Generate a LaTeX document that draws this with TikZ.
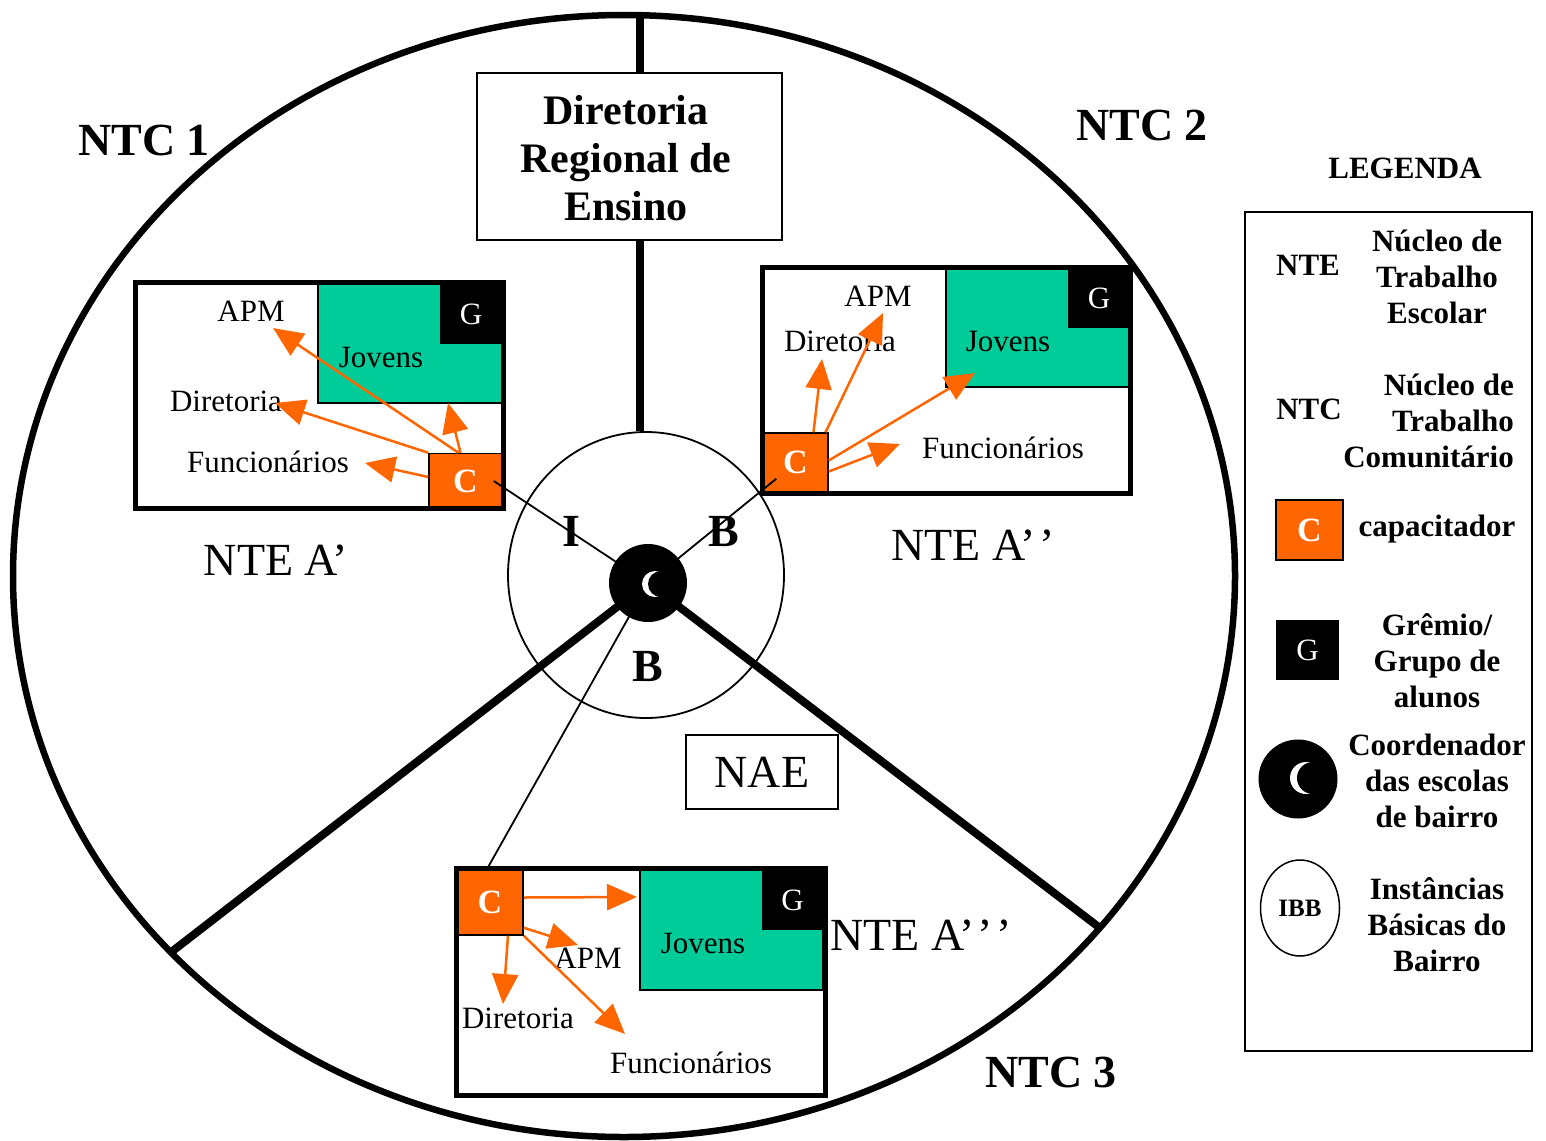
\documentclass[tikz,border=0pt]{standalone}
\usepackage{fontspec}
\setmainfont{Liberation Serif}
\usetikzlibrary{shapes.geometric,arrows.meta,calc}
\definecolor{jgreen}{RGB}{0,204,153}
\definecolor{corange}{RGB}{255,102,0}
\begin{document}
\begin{tikzpicture}[x=1pt,y=-1pt,
  txt/.style={font=\fontsize{31}{36}\selectfont, inner sep=0pt},
  btxt/.style={font=\fontsize{31}{36}\selectfont\bfseries, inner sep=0pt, align=center},
  big/.style={font=\fontsize{46}{50}\selectfont, inner sep=0pt},
  bigb/.style={font=\fontsize{46}{50}\selectfont\bfseries, inner sep=0pt},
  rbox/.style={rectangle, inner sep=0pt},
  ntebox/.style={rbox, draw, line width=5pt},
  jbox/.style={rbox, fill=jgreen, draw=black, line width=1.5pt},
  gbox/.style={rbox, fill=black, text=white, font=\fontsize{31}{36}\selectfont},
  cbox/.style={rbox, fill=corange, draw=black, line width=1.5pt, text=white, font=\fontsize{34}{36}\selectfont\bfseries},
  arr/.style={draw=corange, line width=2.5pt, -{Triangle[length=30pt,width=26pt]}},
  thinline/.style={line width=1.8pt},
  heavyline/.style={line width=7.5pt},
]
\useasboundingbox (0,0) rectangle (1546,1140);

% big NTC circle
\node[draw, ellipse, line width=6.5pt, minimum width=1222pt, minimum height=1122pt, inner sep=0pt] (ntc) at (624,576) {};

% Diretoria Regional de Ensino
\node[rbox, draw, line width=1.5pt, minimum width=305pt, minimum height=167pt] (dre) at (629.5,156.5) {};
\node[font=\fontsize{42}{48}\selectfont\bfseries, align=center, inner sep=0pt] (dretxt) at (626,158) {Diretoria\\Regional de\\Ensino};

% inner IBB circle
\node[draw, ellipse, thinline, minimum width=276pt, minimum height=286pt, inner sep=0pt] (ibb) at (646,575) {};

% vertical line
\coordinate (vtop) at (640,13);
\draw[heavyline] (vtop) -- (vtop |- dre.north);
\draw[heavyline] (vtop |- dre.south) -- (vtop |- ibb.north);

% sector lines
\coordinate (ll) at (170,953);
\coordinate (lr) at (1100,928);
\coordinate (cbc) at (648,583);
\draw[line width=8pt] (cbc) -- (ll);
\draw[line width=8pt] (cbc) -- (lr);

% ---------- NTE A' (left) ----------
\node[rbox, fill=white, minimum width=368pt, minimum height=226pt] (n1bg) at (319,395) {};
\node[jbox, minimum width=184pt, minimum height=119pt] (j1) at (410,343.5) {};
\node[gbox, minimum width=62pt, minimum height=60pt] (g1) at (471,314) {G};
\node[txt] (apm1) at (251,311) {APM};
\node[txt] (jov1) at (381,357) {Jovens};
\node[txt] (dir1) at (226,401) {Diretoria};
\node[txt] (fun1) at (268,462) {Funcionários};
\node[cbox, minimum width=73pt, minimum height=55pt] (c1) at (465.5,481) {C};
\node[ntebox, minimum width=368pt, minimum height=226pt] (n1) at (319,395) {};
\coordinate (t1a) at (273,328);
\coordinate (t1d) at (275,403);
\coordinate (t1f) at (365,463);
\coordinate (t1j) at (448,403);
\draw[arr] ($(c1.north)+(-7,0)$) -- (t1a);
\draw[arr] (c1.north west) -- (t1d);
\draw[arr] ($(c1.west)+(0,-4)$) -- (t1f);
\draw[arr] ($(c1.north)+(-5,0)$) -- (t1j);

% ---------- NTE A'' (right) ----------
\node[rbox, fill=white, minimum width=368pt, minimum height=226pt] (n2bg) at (946,380) {};
\node[jbox, minimum width=184pt, minimum height=119pt] (j2) at (1038,327.5) {};
\node[gbox, minimum width=62pt, minimum height=60pt] (g2) at (1099,298) {G};
\node[txt] (apm2) at (878,296) {APM};
\node[txt] (dir2) at (840,341) {Diretoria};
\node[txt] (jov2) at (1008,341) {Jovens};
\node[txt] (fun2) at (1003,448) {Funcionários};
\node[cbox, minimum width=65pt, minimum height=59pt] (c2) at (795.5,462.5) {C};
\node[ntebox, minimum width=368pt, minimum height=226pt] (n2) at (946,380) {};
\coordinate (t2d) at (822,359);
\coordinate (t2a) at (883,313);
\coordinate (t2j) at (975,373);
\coordinate (t2f) at (900,444);
\draw[arr] ($(c2.north)+(18,0)$) -- (t2d);
\draw[arr] ($(c2.north)+(30,0)$) -- (t2a);
\draw[arr] ($(c2.east)+(0,-2)$) -- (t2j);
\draw[arr] ($(c2.east)+(0,9)$) -- (t2f);

% ---------- NTE A''' (bottom) ----------
\node[rbox, fill=white, minimum width=369pt, minimum height=227pt] (n3bg) at (640.5,981.5) {};
\node[jbox, minimum width=183pt, minimum height=120pt] (j3) at (731.5,930) {};
\node[gbox, minimum width=61pt, minimum height=60pt] (g3) at (792.5,900) {G};
\node[txt] (jov3) at (703,943) {Jovens};
\node[txt] (apm3) at (588,958) {APM};
\node[txt] (dir3) at (518,1018) {Diretoria};
\node[txt] (fun3) at (691,1063) {Funcionários};
\node[cbox, minimum width=66pt, minimum height=65pt] (c3) at (490,902.5) {C};
\node[ntebox, minimum width=369pt, minimum height=227pt] (n3) at (640.5,981.5) {};
\coordinate (t3j) at (637,897);
\coordinate (t3a) at (578,945);
\coordinate (t3d) at (503,1004);
\coordinate (t3f) at (625,1034);
\draw[arr] ($(c3.east)+(0,-5)$) -- (t3j);
\draw[arr] ($(c3.south east)+(0,-8)$) -- (t3a);
\draw[arr] ($(c3.south)+(18,0)$) -- (t3d);
\draw[arr] (c3.south east) -- (t3f);

% thin links to coordinator
\draw[thinline] ($(c1.east)+(-9,0)$) -- (cbc);
\draw[thinline] ($(c2.south west)+(14,-14)$) -- (cbc);
\draw[thinline] ($(c3.north)+(-2,-2)$) -- (cbc);

% coordinator disk
\node[circle, fill=black, minimum size=78pt, inner sep=0pt] (cb) at (cbc) {};
\fill[white] ($(cb)+(7,1)$) circle[radius=13pt];
\fill[black] ($(cb)+(13,1)$) circle[radius=13pt];

% labels I, B, B
\node[bigb] (li) at (571,531) {I};
\node[bigb] (lb1) at (724,531) {B};
\node[bigb] (lb2) at (648,666) {B};

% NAE
\node[rbox, draw, line width=1.5pt, minimum width=152pt, minimum height=74pt, big] (nae) at (762,772) {NAE};

% NTE / NTC labels
\node[big] (ntea1) at (276,560) {NTE A’};
\node[big] (ntea2) at (973,545) {NTE A’\kern3pt’};
\node[big] (ntea3) at (921,935) {NTE A’\kern3pt’\kern3pt’};
\node[bigb] (ntc1) at (144,140) {NTC 1};
\node[bigb] (ntc2) at (1142,125) {NTC 2};
\node[bigb] (ntc3) at (1051,1072) {NTC 3};

% ---------- Legend ----------
\node[btxt] (legtitle) at (1405,168) {LEGENDA};
\node[rbox, draw, line width=2pt, minimum width=287pt, minimum height=839pt] (leg) at (1388.5,631.5) {};
\node[btxt] (lnte) at (1308,265) {NTE};
\node[btxt] (lntetxt) at (1437,277) {Núcleo de\\Trabalho\\Escolar};
\node[btxt] (lntc) at (1309,409) {NTC};
\node[btxt, align=right, anchor=east] (lntctxt) at (1514,421) {Núcleo de\\Trabalho\\Comunitário};
\node[cbox, minimum width=67pt, minimum height=60pt] (lc) at (1309.5,530) {C};
\node[btxt] (lctxt) at (1437,529) {capacitador};
\node[gbox, minimum width=63pt, minimum height=60pt] (lg) at (1307.5,650) {G};
\node[btxt] (lgtxt) at (1437,661) {Grêmio/\\Grupo de\\alunos};
\node[circle, fill=black, minimum size=79pt, inner sep=0pt] (lcb) at (1298,779) {};
\fill[white] ($(lcb)+(8,-1)$) circle[radius=16pt];
\fill[black] ($(lcb)+(15,-1)$) circle[radius=16pt];
\node[btxt] (lcbtxt) at (1437,781) {Coordenador\\das escolas\\de bairro};
\node[draw, ellipse, line width=1.5pt, minimum width=79pt, minimum height=96pt, inner sep=0pt, font=\fontsize{25}{28}\selectfont\bfseries] (libb) at (1300,908) {IBB};
\node[btxt] (libbtxt) at (1437,925) {Instâncias\\Básicas do\\Bairro};
\end{tikzpicture}
\end{document}
